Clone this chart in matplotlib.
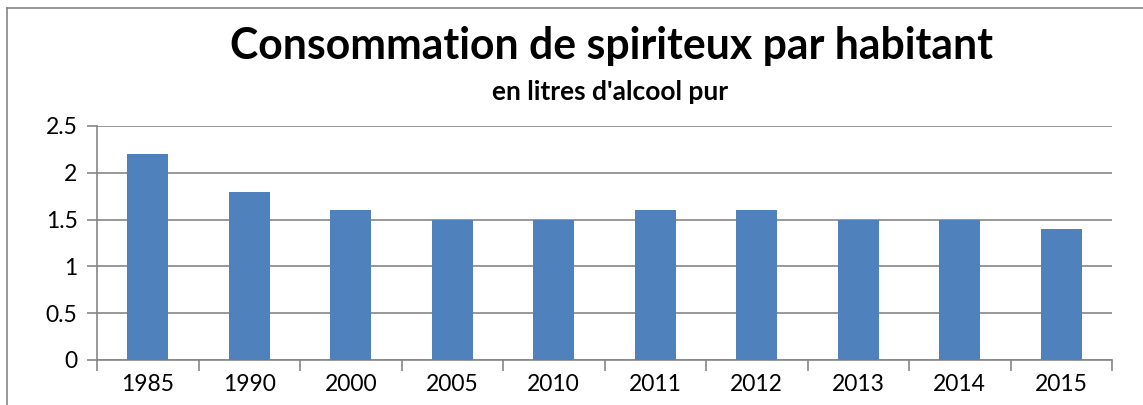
import matplotlib.pyplot as plt
from matplotlib.lines import Line2D

# Données
annees = ['1985', '1990', '2000', '2005', '2010', '2011', '2012', '2013', '2014', '2015']
litres = [2.2, 1.8, 1.6, 1.5, 1.5, 1.6, 1.6, 1.5, 1.5, 1.4]
y_ticks = [0, 0.5, 1, 1.5, 2, 2.5]
y_labels = ['0', '0.5', '1', '1.5', '2', '2.5']

plt.rcParams['font.family'] = ['Lato', 'DejaVu Sans']

W, H = 1143, 405
fig = plt.figure(figsize=(W / 100, H / 100), dpi=100)
ax = fig.add_axes([97 / W, 1 - 360 / H, (1112 - 97) / W, (360 - 126) / H])

gris = '#868686'
x = range(len(annees))
ax.bar(x, litres, width=0.4, color='#4F81BD', zorder=3)

ax.set_xlim(-0.5, len(annees) - 0.5)
ax.set_ylim(0, 2.5)
ax.set_yticks(y_ticks)
ax.set_yticklabels(y_labels, fontsize=16.5)
ax.set_xticks(x)
ax.set_xticklabels(annees, fontsize=16.5)
ax.tick_params(axis='x', length=0, pad=10)
ax.tick_params(axis='y', length=7, color=gris, width=1.2, pad=7)
# graduations entre les catégories
ax.set_xticks([i - 0.5 for i in range(len(annees) + 1)], minor=True)
ax.tick_params(axis='x', which='minor', length=8, color=gris, width=1.2)

ax.yaxis.grid(True, color=gris, linewidth=1.2, zorder=0)
for s in ['top', 'right']:
    ax.spines[s].set_visible(False)
for s in ['left', 'bottom']:
    ax.spines[s].set_color(gris)
    ax.spines[s].set_linewidth(1.2)

fig.text(611 / W, 1 - 46 / H, 'Consommation de spiriteux par habitant',
         ha='center', va='center', fontsize=30.8, fontweight='bold')
fig.text(610 / W, 1 - 92 / H, "en litres d'alcool pur",
         ha='center', va='center', fontsize=19, fontweight='bold')

# cadre du graphique
fig.add_artist(Line2D([7 / W, 1], [1 - 8 / H, 1 - 8 / H], color=gris, linewidth=1.2))
fig.add_artist(Line2D([7 / W, 7 / W], [0, 1 - 8 / H], color=gris, linewidth=1.2))

fig.savefig('out.png', dpi=100)
